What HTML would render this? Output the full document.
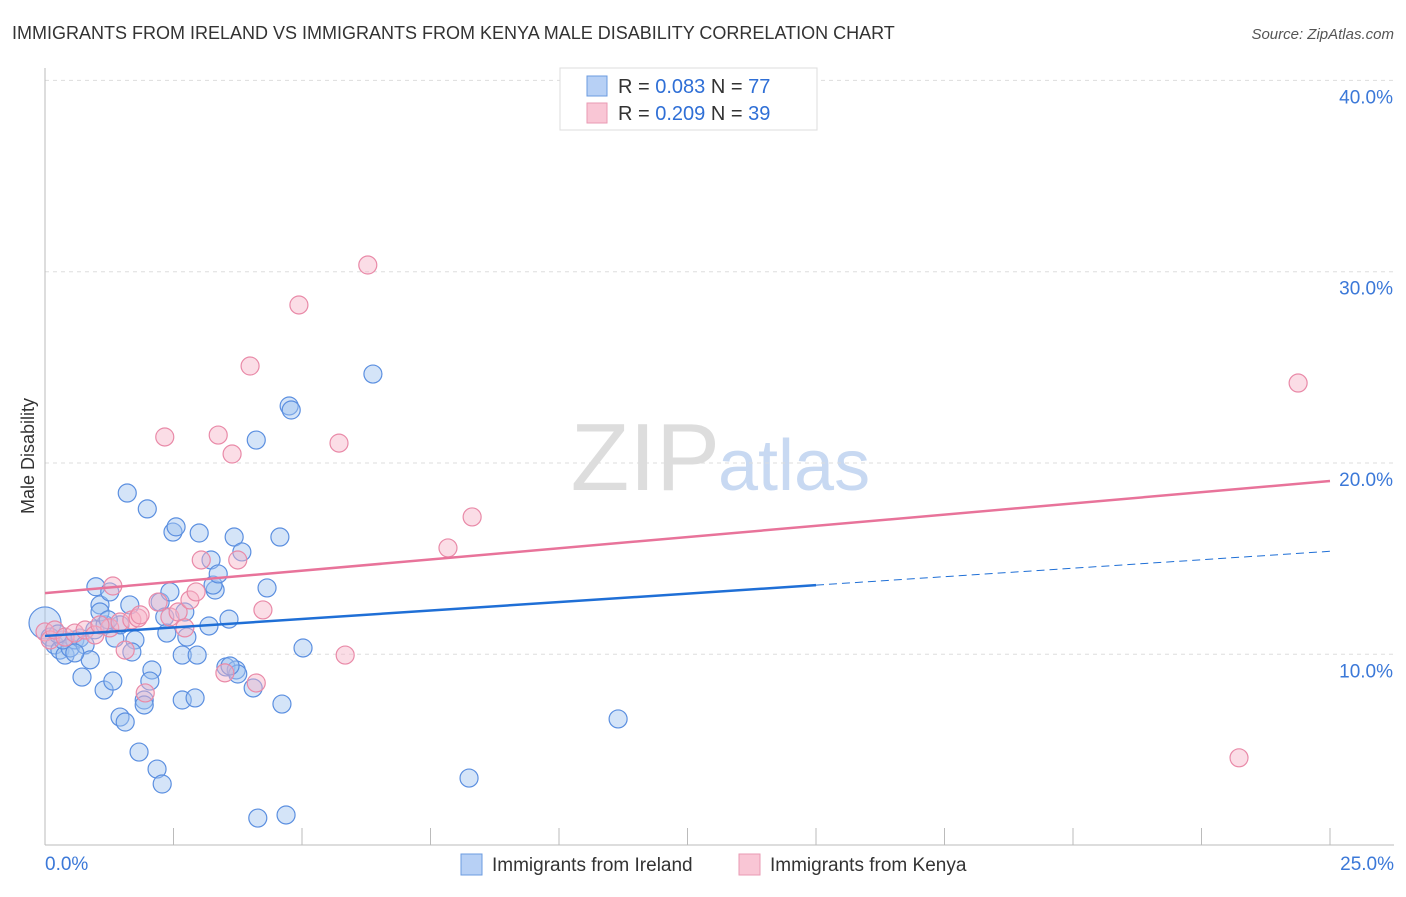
<!DOCTYPE html>
<html><head><meta charset="utf-8"><style>
body{margin:0;background:#fff;font-family:"Liberation Sans",sans-serif;}
svg text{font-family:"Liberation Sans",sans-serif;}
</style></head><body>
<svg width="1406" height="892">
<text x="12" y="39" font-size="18" fill="#333">IMMIGRANTS FROM IRELAND VS IMMIGRANTS FROM KENYA MALE DISABILITY CORRELATION CHART</text>
<text x="1394" y="39" font-size="15" fill="#555" font-style="italic" text-anchor="end">Source: ZipAtlas.com</text>
<text x="720" y="490" font-size="96" fill="#ddd" text-anchor="end" font-family="Liberation Serif">ZIP</text>
<text x="718" y="490" font-size="72" fill="#c8d9f2">atlas</text>
<g id="grid"></g>
<g id="axes"></g>
<g id="pts"></g>
<g id="lines"></g>
<text transform="translate(34,456) rotate(-90)" font-size="18" fill="#333" text-anchor="middle">Male Disability</text>
<g>
<rect x="560" y="68" width="257" height="62" fill="#fff" stroke="#ddd"/>
<rect x="587" y="76" width="20" height="20" fill="#b7d0f5" stroke="#6b9be0"/>
<rect x="587" y="103" width="20" height="20" fill="#f9c6d5" stroke="#e99ab3"/>
<text x="618" y="93" font-size="20" fill="#333">R = <tspan fill="#2f6fd6">0.083</tspan>   N = <tspan fill="#2f6fd6">77</tspan></text>
<text x="618" y="120" font-size="20" fill="#333">R = <tspan fill="#2f6fd6">0.209</tspan>   N = <tspan fill="#2f6fd6">39</tspan></text>
</g>
<g>
<rect x="461" y="854" width="21" height="21" fill="#b7d0f5" stroke="#6b9be0"/>
<text x="492" y="871" font-size="19" fill="#333">Immigrants from Ireland</text>
<rect x="739" y="854" width="21" height="21" fill="#f9c6d5" stroke="#e99ab3"/>
<text x="770" y="871" font-size="19" fill="#333">Immigrants from Kenya</text>
</g>
</svg>
<script>
const xTicks=[0,2.5,5,7.5,10,12.5,15,17.5,20,22.5,25];
const yTicks=[10,20,30,40];
const yTickLabels=["10.0%","20.0%","30.0%","40.0%"];
const xEndLabels=["0.0%","25.0%"];
const irelandX=[0,.10,.19,.29,.39,.49,.58,.68,.78,.88,.97,1.07,.99,1.17,1.26,1.36,1.46,.72,1.15,1.32,1.46,1.56,1.65,1.75,1.69,1.60,1.99,1.83,2.08,2.04,1.93,1.93,2.18,2.28,2.24,2.33,2.37,2.43,2.49,2.55,2.67,2.67,2.72,2.76,2.92,2.96,3.00,3.19,3.23,3.31,3.27,3.37,3.58,3.68,3.83,3.52,3.72,3.75,4.05,4.11,4.32,4.57,4.61,4.75,4.79,4.14,4.69,5.02,6.38,8.25,11.15,3.60,1.07,.35,.58,1.23,.25];
const irelandY=[11.64,10.90,10.49,10.22,9.96,10.33,10.75,10.85,10.49,9.71,11.28,12.58,13.53,11.54,13.26,10.85,11.54,8.81,8.13,8.60,6.72,6.46,12.58,10.75,10.12,18.43,17.60,4.89,9.18,8.60,7.61,7.35,4.00,3.22,12.73,11.95,11.11,13.26,16.39,16.66,9.96,7.61,12.21,10.90,7.72,9.96,16.34,11.48,14.93,13.36,13.62,14.20,11.84,16.13,15.35,9.34,9.18,8.97,8.24,21.20,13.47,16.13,7.40,22.98,22.77,1.44,1.60,10.33,24.65,3.53,6.62,9.39,12.21,10.75,10.07,11.80,11.06];
const kenyaX=[0,.10,.19,.39,.58,.78,.97,1.26,1.32,1.46,1.56,1.69,1.81,1.95,2.20,2.33,2.43,2.59,2.72,2.82,2.94,3.04,3.37,3.64,3.75,3.99,4.11,4.24,4.94,5.72,5.84,6.28,7.84,8.31,23.23,24.38,3.50,1.07,1.85];
const kenyaY=[11.17,10.75,11.27,10.90,11.11,11.27,11.01,11.38,13.57,11.69,10.22,11.80,11.90,7.98,12.73,21.36,11.95,12.21,11.38,12.84,13.26,14.93,21.46,20.47,14.93,25.07,8.50,12.32,28.26,21.04,9.96,30.35,15.56,17.18,4.59,24.18,9.03,11.54,12.06];
const irelandTrend=[10.96,0.177]; // intercept, slope
const kenyaTrend=[13.20,0.2344];
const NS='http://www.w3.org/2000/svg';
const X0=45,X1=1330,Y0=845.6,PY=19.13;
const sx=v=>X0+(v/25)*(X1-X0), sy=v=>Y0-v*PY;
function mk(tag,attrs,parent){const e=document.createElementNS(NS,tag);for(const k in attrs)e.setAttribute(k,attrs[k]);document.getElementById(parent).appendChild(e);return e;}
yTicks.forEach((t,i)=>{
 const l=mk('line',{x1:45,x2:1394,y1:sy(t),y2:sy(t),stroke:'#ddd','stroke-dasharray':'4,4'},'grid');
 
 
 const tx=mk('text',{x:1393,y:sy(t)+23,'font-size':19,fill:'#3b78d8','text-anchor':'end'},'axes');
 tx.textContent=yTickLabels[i];
 
 
});
const ax=mk('line',{x1:45,x2:1394,y1:845,y2:845,stroke:'#bbb'},'axes');


const ay=mk('line',{x1:45,x2:45,y1:68,y2:845,stroke:'#bbb'},'axes');


xTicks.forEach(t=>{
 const l=mk('line',{x1:sx(t),x2:sx(t),y1:828,y2:845,stroke:'#bbb'},'axes');
 
 
});
const xl0=mk('text',{x:45,y:870,'font-size':19,fill:'#3b78d8'},'axes');xl0.textContent=xEndLabels[0];


const xl1=mk('text',{x:1394,y:870,'font-size':19,fill:'#3b78d8','text-anchor':'end'},'axes');xl1.textContent=xEndLabels[1];


irelandX.forEach((x,i)=>{
 const c=mk('circle',{cx:sx(x),cy:sy(irelandY[i]),r:i===0?16:9,fill:'rgba(160,195,240,0.45)',stroke:'#5b8fe0','stroke-width':1.2},'pts');
 
 
});
kenyaX.forEach((x,i)=>{
 const c=mk('circle',{cx:sx(x),cy:sy(kenyaY[i]),r:9,fill:'rgba(246,180,200,0.45)',stroke:'#e98aa8','stroke-width':1.2},'pts');
 
 
});
const b1=mk('line',{x1:sx(0),y1:sy(irelandTrend[0]),x2:sx(15),y2:sy(irelandTrend[0]+15*irelandTrend[1]),stroke:'#1f6fd6','stroke-width':2.5},'lines');


const b2=mk('line',{x1:sx(15),y1:sy(irelandTrend[0]+15*irelandTrend[1]),x2:sx(25),y2:sy(irelandTrend[0]+25*irelandTrend[1]),stroke:'#1f6fd6','stroke-width':1,'stroke-dasharray':'8,5'},'lines');


const p1=mk('line',{x1:sx(0),y1:sy(kenyaTrend[0]),x2:sx(25),y2:sy(kenyaTrend[0]+25*kenyaTrend[1]),stroke:'#e8739a','stroke-width':2.5},'lines');


</script>
</body></html>
